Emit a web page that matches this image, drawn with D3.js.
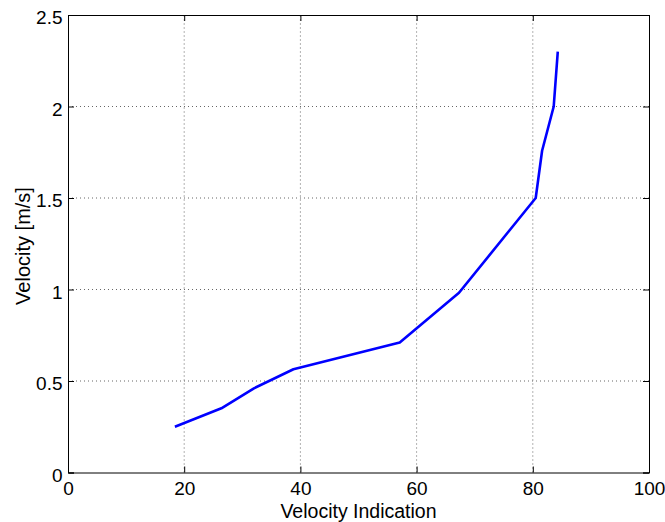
<!DOCTYPE html>
<html><head><meta charset="utf-8">
<script src="https://cdn.jsdelivr.net/npm/d3@7"></script>
<style>body{margin:0;background:#fff}svg{display:block}</style>
</head><body>
<script>
const xValues = [18.4, 26.4, 32.0, 38.8, 57.1, 67.3, 80.5, 81.6, 83.6, 84.3];
const yValues = [0.25, 0.351, 0.46, 0.564, 0.711, 0.982, 1.50, 1.758, 2.0, 2.30];
const xTicks = [0, 20, 40, 60, 80, 100];
const yTicks = [0, 0.5, 1, 1.5, 2, 2.5];
const xLabel = "Velocity Indication";
const yLabel = "Velocity [m/s]";

const W = 665, H = 522;
const m = {l: 68, r: 16, t: 15, b: 49.5};
const FONT = "'Liberation Sans', Arial, sans-serif";
const svg = d3.select("body").append("svg").attr("width", W).attr("height", H)
  .style("font-family", FONT);
const x = d3.scaleLinear().domain([0, 100]).range([m.l, W - m.r]);
const y = d3.scaleLinear().domain([0, 2.5]).range([H - m.b, m.t]);
const fmt = d => d3.format("")(d);

// grid
const g = svg.append("g");
g.selectAll(".gx").data(xTicks.slice(1, -1)).enter().append("line")
  .attr("x1", d => x(d)).attr("x2", d => x(d)).attr("y1", y(0)).attr("y2", y(2.5))
  .attr("stroke", "#666").attr("stroke-width", 1).attr("stroke-dasharray", "1,3");
g.selectAll(".gy").data(yTicks.slice(1, -1)).enter().append("line")
  .attr("y1", d => y(d)).attr("y2", d => y(d)).attr("x1", x(0)).attr("x2", x(100))
  .attr("stroke", "#666").attr("stroke-width", 1).attr("stroke-dasharray", "1,3");

// axes
const tl = 6;
const ax = svg.append("g").attr("transform", `translate(0,${y(0)})`)
  .call(d3.axisBottom(x).tickValues(xTicks).tickFormat(fmt).tickSize(-tl).tickPadding(9.5));
const axT = svg.append("g").attr("transform", `translate(0,${y(2.5)})`)
  .call(d3.axisTop(x).tickValues(xTicks).tickFormat("").tickSize(-tl));
const ay = svg.append("g").attr("transform", `translate(${x(0)},0)`)
  .call(d3.axisLeft(y).tickValues(yTicks).tickFormat(fmt).tickSize(-tl).tickPadding(5.5));
const ayR = svg.append("g").attr("transform", `translate(${x(100)},0)`)
  .call(d3.axisRight(y).tickValues(yTicks).tickFormat("").tickSize(-tl));
[ax, axT, ay, ayR].forEach(a => {
  a.select(".domain").attr("stroke", "#000").attr("stroke-width", 1);
  a.selectAll(".tick line").attr("stroke", "#000");
  a.selectAll("text").attr("font-size", 19).attr("fill", "#000")
    .attr("font-family", FONT);
});
ay.selectAll("text").attr("dy", "0.46em");

// line
svg.append("path").datum(xValues.map((v, i) => [v, yValues[i]]))
  .attr("fill", "none").attr("stroke", "#0000ff").attr("stroke-width", 2.6)
  .attr("stroke-linejoin", "round")
  .attr("d", d3.line().x(d => x(d[0])).y(d => y(d[1])));

// labels
svg.append("text").attr("x", (x(0) + x(100)) / 2).attr("y", 518)
  .attr("text-anchor", "middle").attr("font-size", 19.5).text(xLabel);
svg.append("text").attr("transform", `translate(30,246) rotate(-90)`)
  .attr("text-anchor", "middle").attr("font-size", 20).text(yLabel);
</script>
</body></html>
